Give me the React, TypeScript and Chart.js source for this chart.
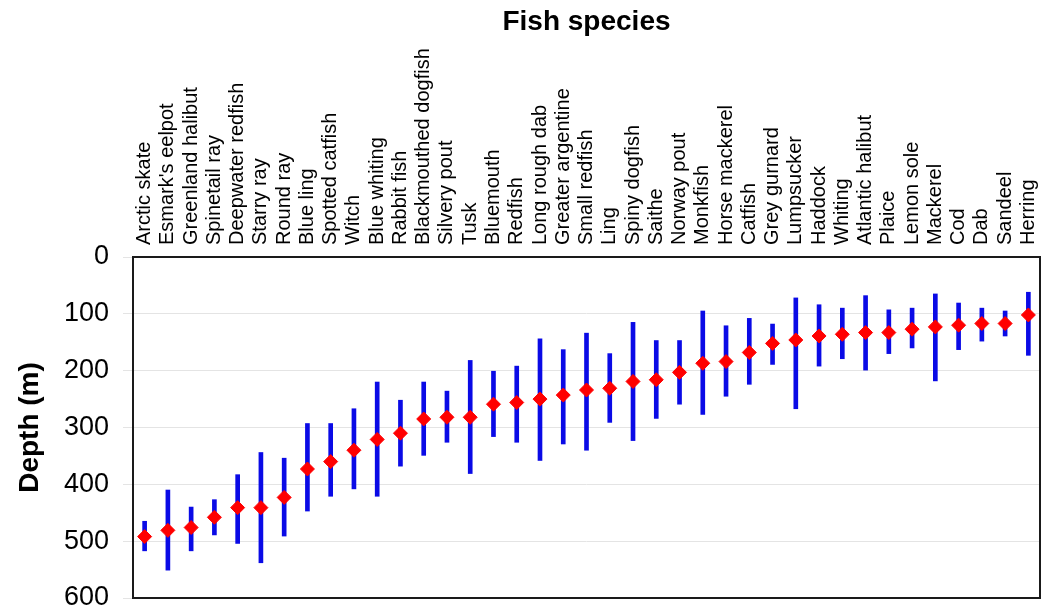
import React, { useEffect, useRef } from "react";
import { Chart, registerables } from "chart.js";

Chart.register(...registerables);

const species: string[] = [
  "Arctic skate", "Esmark's eelpot", "Greenland halibut", "Spinetail ray", "Deepwater redfish",
  "Starry ray", "Round ray", "Blue ling", "Spotted catfish", "Witch", "Blue whiting",
  "Rabbit fish", "Blackmouthed dogfish", "Silvery pout", "Tusk", "Bluemouth", "Redfish",
  "Long rough dab", "Greater argentine", "Small redfish", "Ling", "Spiny dogfish", "Saithe",
  "Norway pout", "Monkfish", "Horse mackerel", "Catfish", "Grey gurnard", "Lumpsucker",
  "Haddock", "Whiting", "Atlantic halibut", "Plaice", "Lemon sole", "Mackerel", "Cod",
  "Dab", "Sandeel", "Herring",
];

const depthMin: number[] = [
  465, 410, 440, 427, 383, 344, 354, 293, 293, 267, 220,
  252, 220, 236, 182, 201, 192, 144, 163, 134, 170, 115, 147,
  147, 95, 121, 108, 118, 72, 84, 90, 68, 93, 90, 65, 81,
  90, 95, 62,
];

const depthMean: number[] = [
  492, 481, 476, 458, 441, 441, 423, 373, 360, 340, 321,
  310, 285, 282, 282, 259, 256, 250, 243, 234, 231, 219, 216,
  203, 187, 184, 168, 152, 146, 139, 136, 133, 133, 127, 123, 120,
  117, 117, 102,
];

const depthMax: number[] = [
  517, 551, 517, 489, 504, 538, 491, 447, 421, 408, 421,
  368, 349, 326, 381, 316, 326, 358, 329, 340, 291, 323, 284,
  259, 277, 245, 224, 189, 267, 192, 179, 199, 170, 160, 218, 163,
  148, 139, 173,
];

const yTicks: number[] = [0, 100, 200, 300, 400, 500, 600];

const FONT = "'Liberation Sans', Arial, Helvetica, sans-serif";
const LABEL_SIZE = 20;

const framePlugin = {
  id: "frame",
  afterDraw(chart: any) {
    const { ctx, chartArea } = chart;
    ctx.save();
    ctx.strokeStyle = "#1a1a1a";
    ctx.lineWidth = 2;
    ctx.strokeRect(chartArea.left, chartArea.top, chartArea.right - chartArea.left, chartArea.bottom - chartArea.top);
    ctx.restore();
  },
};

export default function App() {
  const ref = useRef<HTMLCanvasElement | null>(null);

  useEffect(() => {
    document.body.style.margin = "0";
    document.body.style.overflow = "hidden";
    const canvas = ref.current;
    if (!canvas) return;
    const chart = new Chart(canvas, {
      type: "bar",
      data: {
        labels: species,
        datasets: [
          {
            type: "line",
            label: "Mean depth",
            data: depthMean,
            showLine: false,
            pointStyle: "rectRot",
            pointRadius: 7,
            pointBackgroundColor: "#ff0000",
            pointBorderColor: "#ff0000",
            pointBorderWidth: 1,
            order: 0,
          } as any,
          {
            type: "bar",
            label: "Depth range",
            data: species.map((_, i) => [depthMin[i], depthMax[i]]),
            backgroundColor: "#0a0ae6",
            borderWidth: 0,
            barThickness: 4,
            order: 1,
          } as any,
        ],
      },
      options: {
        responsive: false,
        animation: false,
        layout: { autoPadding: false, padding: { left: 0, right: 1, top: 0, bottom: 14 } },
        plugins: {
          legend: { display: false },
          tooltip: { enabled: false },
          title: { display: false },
        },
        scales: {
          x: {
            position: "top",
            offset: true,
            grid: { display: false, drawTicks: false },
            border: { display: false },
            ticks: {
              minRotation: 90,
              maxRotation: 90,
              autoSkip: false,
              padding: 12,
              labelOffset: LABEL_SIZE * 1.2,
              color: "#000",
              font: { family: FONT, size: LABEL_SIZE },
            },
            title: {
              display: true,
              text: "Fish species",
              color: "#000",
              font: { family: FONT, size: 28, weight: "bold" },
              padding: { top: 5, bottom: 0 },
            },
            afterFit(scale: any) {
              scale.height = 257;
              scale.paddingLeft = 0;
              scale.paddingRight = 0;
            },
          },
          y: {
            reverse: true,
            min: 0,
            max: 600,
            afterBuildTicks(scale: any) {
              scale.ticks = yTicks.map((v) => ({ value: v }));
            },
            grid: {
              color: "#e4e4e4",
              lineWidth: 1,
              drawTicks: true,
              tickLength: 10,
              tickColor: "#e4e4e4",
            },
            border: { display: false },
            ticks: {
              padding: 14,
              color: "#000",
              font: { family: FONT, size: 27 },
            },
            title: {
              display: true,
              text: "Depth (m)",
              color: "#000",
              font: { family: FONT, size: 28, weight: "bold" },
              padding: { top: 13, bottom: 0 },
            },
            afterFit(scale: any) {
              scale.width = 133;
              scale.paddingTop = 0;
              scale.paddingBottom = 0;
            },
          },
        },
      },
      plugins: [framePlugin],
    });
    return () => chart.destroy();
  }, []);

  return (
    <div style={{ width: 1041, height: 612 }}>
      <canvas ref={ref} width={1041} height={612} />
    </div>
  );
}
